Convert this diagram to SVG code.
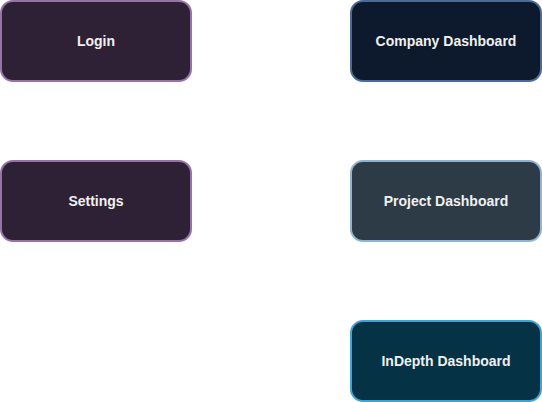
<svg xmlns="http://www.w3.org/2000/svg" width="542" height="402" viewBox="0 0 542 402">
<style>
.n{stroke-width:2}
.t{font-family:"Liberation Sans",Arial,sans-serif;font-size:14px;font-weight:bold;fill:#f0f0f0;text-anchor:middle;dominant-baseline:central}
</style>
<rect width="542" height="402" fill="#ffffff"/>
<g id="connectors"></g>
<g id="login"><rect class="n" x="1" y="1" width="190" height="80" rx="12" fill="#2f2135" stroke="#9673a6"/><text class="t" x="96" y="41">Login</text></g>
<g id="company"><rect class="n" x="351" y="1" width="190" height="80" rx="12" fill="#0d1a2d" stroke="#4a6b9a"/><text class="t" x="446" y="41">Company Dashboard</text></g>
<g id="settings"><rect class="n" x="1" y="161" width="190" height="80" rx="12" fill="#2f2135" stroke="#9673a6"/><text class="t" x="96" y="201">Settings</text></g>
<g id="project"><rect class="n" x="351" y="161" width="190" height="80" rx="12" fill="#2d3b47" stroke="#8fb3d1"/><text class="t" x="446" y="201">Project Dashboard</text></g>
<g id="indepth"><rect class="n" x="351" y="321" width="190" height="80" rx="12" fill="#063246" stroke="#3ea4d4"/><text class="t" x="446" y="361">InDepth Dashboard</text></g>
</svg>
